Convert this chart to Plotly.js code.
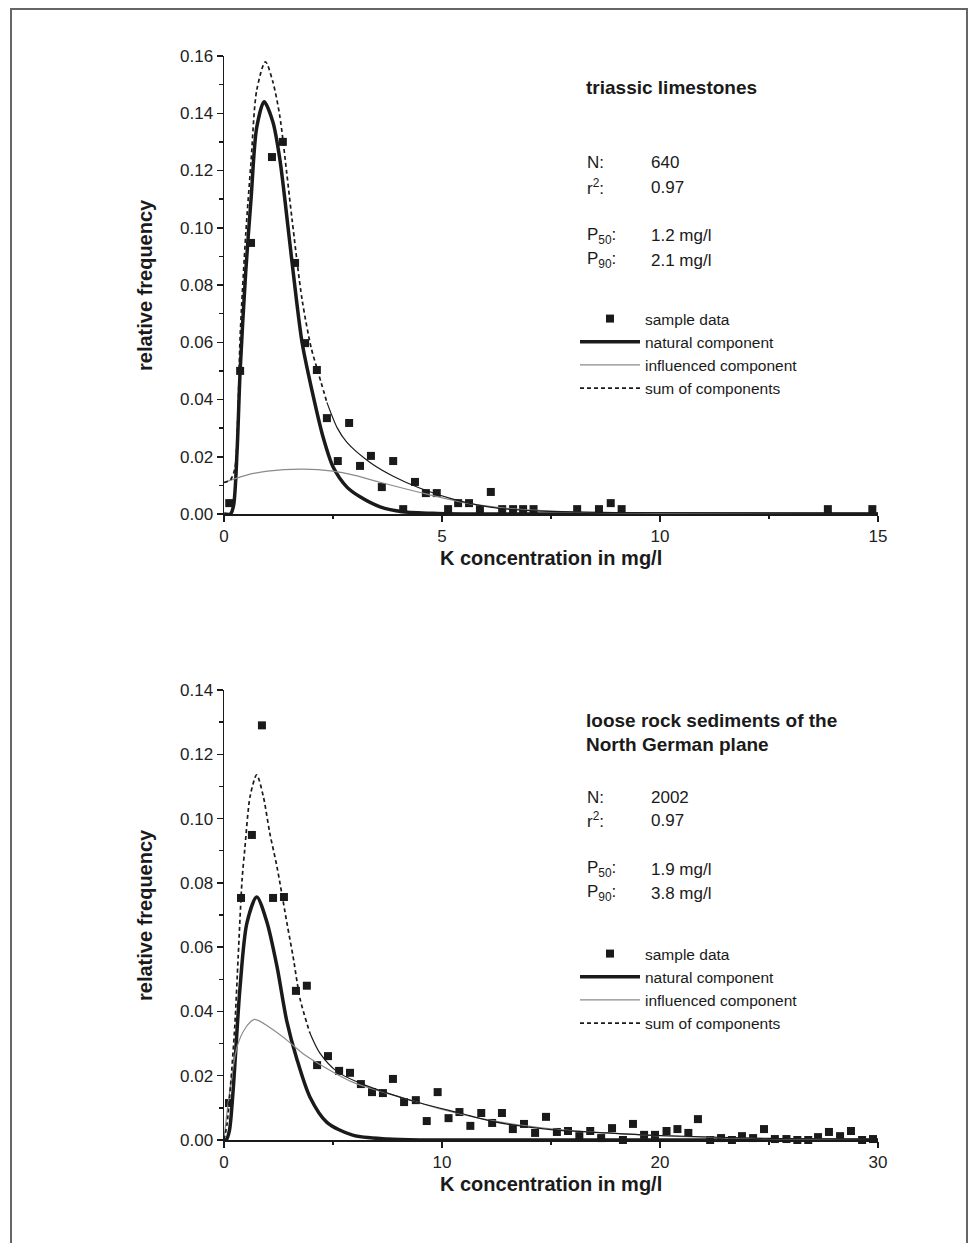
<!DOCTYPE html>
<html>
<head>
<meta charset="utf-8">
<script src="https://cdn.plot.ly/plotly-3.0.1.min.js"></script>
<style>
  html, body { margin: 0; padding: 0; background: #fff; }
  #wrap { position: relative; width: 978px; height: 1243px; overflow: hidden; }
  #frame { position: absolute; left: 10px; top: 8px; width: 958px; height: 1260px; border: 2px solid #666; box-sizing: border-box; pointer-events: none; }
  #chart { position: absolute; left: 0; top: 0; width: 978px; height: 1243px; }
</style>
</head>
<body>
<div id="wrap">
  <div id="chart"></div>
  <div id="frame"></div>
</div>
<script>
// ---------- Top panel: triassic limestones ----------
const topSampleX = [0.12, 0.37, 0.62, 1.10, 1.35, 1.63, 1.86, 2.13, 2.36, 2.61, 2.87, 3.12, 3.37, 3.62, 3.88, 4.11, 4.38, 4.63, 4.88, 5.14, 5.37, 5.62, 5.87, 6.12, 6.38, 6.63, 6.86, 7.10, 8.10, 8.60, 8.87, 9.12, 13.85, 14.87];
const topSampleY = [0.0038, 0.050, 0.0947, 0.1247, 0.130, 0.0877, 0.0597, 0.0503, 0.0335, 0.0185, 0.0318, 0.0168, 0.0203, 0.0094, 0.0185, 0.0017, 0.0112, 0.0073, 0.0073, 0.0017, 0.0038, 0.0038, 0.0017, 0.0077, 0.0017, 0.0017, 0.0017, 0.0017, 0.0017, 0.0017, 0.0038, 0.0017, 0.0017, 0.0017];

const topNaturalX = [0, 0.15, 0.22, 0.30, 0.37, 0.50, 0.62, 0.75, 0.92, 1.12, 1.28, 1.47, 1.56, 1.79, 2.02, 2.27, 2.50, 2.82, 3.12, 3.58, 4.10, 4.90, 6.0, 15];
const topNaturalY = [0, 0, 0.003, 0.022, 0.050, 0.085, 0.110, 0.135, 0.144, 0.137, 0.124, 0.100, 0.088, 0.060, 0.043, 0.027, 0.0165, 0.0094, 0.006, 0.0025, 0.0008, 0.0002, 0, 0];

const topInfluencedX = [0, 0.5, 1.0, 1.8, 2.5, 3.0, 3.6, 4.5, 5.5, 6.5, 8.0, 10.0, 15];
const topInfluencedY = [0.011, 0.0135, 0.015, 0.0157, 0.015, 0.0135, 0.011, 0.0075, 0.004, 0.002, 0.0007, 0.0002, 0];

const topSumX = [0, 0.15, 0.25, 0.32, 0.37, 0.50, 0.62, 0.75, 0.95, 1.12, 1.28, 1.44, 1.56, 1.79, 2.0, 2.13, 2.36, 2.6, 2.82, 3.35, 3.88, 4.50, 5.25, 6.10, 7.0, 9.0, 15];
const topSumY = [0.011, 0.012, 0.016, 0.035, 0.062, 0.098, 0.123, 0.148, 0.158, 0.151, 0.139, 0.119, 0.103, 0.075, 0.058, 0.051, 0.039, 0.030, 0.025, 0.018, 0.0132, 0.009, 0.0052, 0.0024, 0.0012, 0.0005, 0.0002];
const topSumDashedUntil = 2.36;   // beyond this the fitted sum is drawn as a thin solid line in the original

// ---------- Bottom panel: loose rock sediments ----------
const botSampleX = [0.23, 0.78, 1.28, 1.74, 2.25, 2.75, 3.30, 3.80, 4.27, 4.77, 5.28, 5.78, 6.28, 6.79, 7.29, 7.75, 8.26, 8.80, 9.30, 9.80, 10.3, 10.8, 11.3, 11.8, 12.3, 12.75, 13.25, 13.76, 14.27, 14.77, 15.27, 15.78, 16.3, 16.8, 17.3, 17.8, 18.3, 18.76, 19.27, 19.77, 20.3, 20.8, 21.3, 21.74, 22.3, 22.8, 23.3, 23.76, 24.27, 24.77, 25.27, 25.8, 26.3, 26.8, 27.25, 27.75, 28.26, 28.76, 29.27, 29.77];
const botSampleY = [0.0115, 0.0753, 0.0949, 0.129, 0.0753, 0.0756, 0.0464, 0.048, 0.0233, 0.0261, 0.0215, 0.0209, 0.0174, 0.0149, 0.0146, 0.019, 0.0118, 0.0124, 0.0059, 0.0149, 0.0068, 0.0087, 0.0044, 0.0084, 0.0053, 0.0084, 0.0034, 0.005, 0.0022, 0.0072, 0.0025, 0.0028, 0.0012, 0.0028, 0.0006, 0.0037, 0.0, 0.005, 0.0016, 0.0016, 0.0028, 0.0034, 0.0022, 0.0065, 0.0, 0.0006, 0.0, 0.0012, 0.0006, 0.0034, 0.0003, 0.0003, 0.0, 0.0, 0.0009, 0.0025, 0.0012, 0.0028, 0.0, 0.0003];

const botNaturalX = [0, 0.1, 0.25, 0.42, 0.73, 1.05, 1.5, 1.96, 2.43, 2.88, 3.35, 3.94, 4.72, 5.9, 7.5, 9.0, 30];
const botNaturalY = [0, 0, 0.003, 0.0156, 0.047, 0.0675, 0.0756, 0.068, 0.054, 0.037, 0.025, 0.0134, 0.0055, 0.0015, 0.0003, 0, 0];

const botInfluencedX = [0, 0.2, 0.6, 1.0, 1.4, 2.1, 2.9, 3.6, 4.4, 5.9, 7.5, 9.0, 10.0, 12.3, 15.0, 17.6, 20.0, 25.0, 30.0];
const botInfluencedY = [0, 0.012, 0.029, 0.035, 0.0375, 0.035, 0.031, 0.027, 0.0235, 0.018, 0.0145, 0.0115, 0.0095, 0.006, 0.0035, 0.0022, 0.0013, 0.0004, 0.0001];

const botSumX = [0, 0.14, 0.3, 0.5, 0.65, 0.83, 0.96, 1.2, 1.5, 1.8, 2.1, 2.43, 2.9, 3.17, 3.5, 3.94, 4.4, 5.2, 6.24, 7.5, 9.0, 10.8, 12.3, 15.0, 17.6, 20.0, 25.0, 30.0];
const botSumY = [0, 0.005, 0.017, 0.036, 0.057, 0.081, 0.091, 0.107, 0.1136, 0.107, 0.0955, 0.085, 0.067, 0.057, 0.0436, 0.0333, 0.027, 0.0212, 0.0177, 0.0146, 0.0115, 0.0084, 0.0058, 0.0032, 0.0022, 0.0014, 0.0005, 0.0002];
const botSumDashedUntil = 3.94;

const legendNames = ["sample data", "natural component", "influenced component", "sum of components"];
const topTitleLines = ["triassic limestones"];
const botTitleLines = ["loose rock sediments of the", "North German plane"];
const topStats = [["N:", "640"], ["r<sup>2</sup>:", "0.97"], ["P<sub>50</sub>:", "1.2 mg/l"], ["P<sub>90</sub>:", "2.1 mg/l"]];
const botStats = [["N:", "2002"], ["r<sup>2</sup>:", "0.97"], ["P<sub>50</sub>:", "1.9 mg/l"], ["P<sub>90</sub>:", "3.8 mg/l"]];
const xTitle = "K concentration in mg/l";
const yTitle = "relative frequency";

// ---------- build ----------
const W = 978, H = 1243;
const px = (x) => x / W;
const py = (y) => 1 - y / H;
const FONT = "Liberation Sans, Arial, sans-serif";
const INK = "#1a1a1a";

function splitAt(xs, ys, xCut) {
  const k = xs.findIndex(v => v >= xCut);
  return { hx: xs.slice(0, k + 1), hy: ys.slice(0, k + 1), tx: xs.slice(k), ty: ys.slice(k) };
}

function panelTraces(sx, sy, nx, ny, ix, iy, ux, uy, cut, xa, ya, leg) {
  const s = splitAt(ux, uy, cut);
  return [
    { x: sx, y: sy, xaxis: xa, yaxis: ya, legend: leg, name: legendNames[0], type: "scatter", mode: "markers",
      marker: { symbol: "square", size: 8, color: INK }, cliponaxis: false },
    { x: nx, y: ny, xaxis: xa, yaxis: ya, legend: leg, name: legendNames[1], type: "scatter", mode: "lines",
      line: { color: INK, width: 3.5, shape: "spline", smoothing: 0.8 } },
    { x: ix, y: iy, xaxis: xa, yaxis: ya, legend: leg, name: legendNames[2], type: "scatter", mode: "lines",
      line: { color: "#8a8a8a", width: 1.2, shape: "spline", smoothing: 0.8 } },
    { x: s.hx, y: s.hy, xaxis: xa, yaxis: ya, legend: leg, name: legendNames[3], type: "scatter", mode: "lines",
      line: { color: INK, width: 1.7, dash: "4px,3px", shape: "spline", smoothing: 0.8 } },
    { x: s.tx, y: s.ty, xaxis: xa, yaxis: ya, legend: leg, name: legendNames[3], showlegend: false, type: "scatter", mode: "lines",
      line: { color: INK, width: 1.2, shape: "spline", smoothing: 0.8 } }
  ];
}

const data = [].concat(
  panelTraces(topSampleX, topSampleY, topNaturalX, topNaturalY, topInfluencedX, topInfluencedY, topSumX, topSumY, topSumDashedUntil, "x", "y", "legend"),
  panelTraces(botSampleX, botSampleY, botNaturalX, botNaturalY, botInfluencedX, botInfluencedY, botSumX, botSumY, botSumDashedUntil, "x2", "y2", "legend2")
);

const axisCommon = {
  showline: true, linecolor: INK, linewidth: 1.5, mirror: false,
  ticks: "outside", ticklen: 6, tickwidth: 1.5, tickcolor: INK,
  showgrid: false, zeroline: false, fixedrange: true,
  tickfont: { family: FONT, size: 17, color: "#222" }
};

function xAxis(range, dtick, anchor, minorDtick) {
  return Object.assign({}, axisCommon, {
    domain: [px(224), px(878)], range: range, dtick: dtick, tick0: 0, anchor: anchor,
    minor: { dtick: minorDtick, tick0: 0, ticks: "outside", ticklen: 3.5, tickwidth: 1.5, tickcolor: INK }
  });
}
function yAxis(domainPx, range, anchor) {
  return Object.assign({}, axisCommon, {
    domain: [py(domainPx[0]), py(domainPx[1])], range: range, dtick: 0.02, tick0: 0, tickformat: ".2f", anchor: anchor,
    minor: { dtick: 0.01, tick0: 0, ticks: "outside", ticklen: 3.5, tickwidth: 1.5, tickcolor: INK }
  });
}

const annotations = [];
function addText(text, x, y, size, bold, extra) {
  annotations.push(Object.assign({
    text: bold ? "<b>" + text + "</b>" : text, xref: "paper", yref: "paper",
    x: px(x), y: py(y), xanchor: "left", yanchor: "middle", showarrow: false,
    font: { family: FONT, size: size, color: INK }
  }, extra || {}));
}

// axis titles
addText(xTitle, 551, 558, 20, true, { xanchor: "center" });
addText(xTitle, 551, 1184, 20, true, { xanchor: "center" });
addText(yTitle, 145, 285, 20, true, { xanchor: "center", textangle: -90 });
addText(yTitle, 145, 915, 20, true, { xanchor: "center", textangle: -90 });

// panel titles
topTitleLines.forEach((t, i) => addText(t, 584, 87 + i * 24, 19, true));
botTitleLines.forEach((t, i) => addText(t, 584, 720 + i * 24.5, 19, true));

// stats blocks
const topStatY = [163, 187, 236, 260];
const botStatY = [797, 820, 869, 893];
topStats.forEach((s, i) => { addText(s[0], 585, topStatY[i], 17, false); addText(s[1], 649, topStatY[i], 17, false); });
botStats.forEach((s, i) => { addText(s[0], 585, botStatY[i], 17, false); addText(s[1], 649, botStatY[i], 17, false); });

const legendCommon = {
  xanchor: "left", yanchor: "top", bgcolor: "rgba(0,0,0,0)", borderwidth: 0,
  font: { family: FONT, size: 15.5, color: INK }, itemwidth: 60, tracegroupgap: 0,
  itemclick: false, itemdoubleclick: false
};

const layout = {
  width: W, height: H,
  margin: { l: 0, r: 0, t: 0, b: 0 },
  paper_bgcolor: "#fff", plot_bgcolor: "rgba(0,0,0,0)",
  showlegend: true,
  font: { family: FONT, color: INK },
  xaxis: xAxis([0, 15], 5, "y", 2.5),
  yaxis: yAxis([514, 56], [0, 0.16], "x"),
  xaxis2: xAxis([0, 30], 10, "y2", 5),
  yaxis2: yAxis([1140, 690], [0, 0.14], "x2"),
  legend: Object.assign({}, legendCommon, { x: px(575), y: py(302) }),
  legend2: Object.assign({}, legendCommon, { x: px(575), y: py(937) }),
  annotations: annotations
};

Plotly.newPlot("chart", data, layout, { displayModeBar: false, staticPlot: true });
</script>
</body>
</html>
